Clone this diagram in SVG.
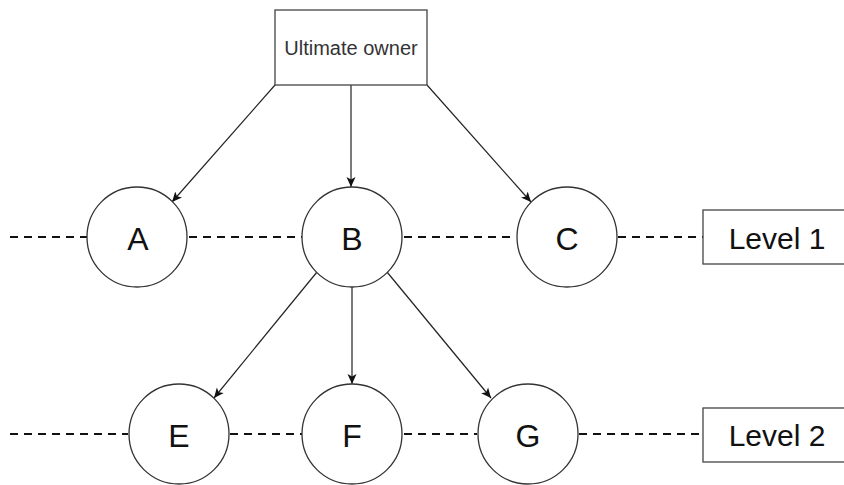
<svg xmlns="http://www.w3.org/2000/svg" width="844" height="485" viewBox="0 0 844 485">
  <style>
    .node { fill: #ffffff; stroke: #333333; stroke-width: 1.3; }
    .box { fill: #ffffff; stroke: #444444; stroke-width: 1.3; }
    .edge { fill: none; stroke: #222222; stroke-width: 1.2; marker-end: url(#arrow); }
    .dash { fill: none; stroke: #111111; stroke-width: 2; stroke-dasharray: 8 6; }
    .lbl { font-family: "Liberation Sans", Arial, sans-serif; fill: #111111; text-anchor: middle; }
    .big { font-size: 32px; }
    .lvl { font-size: 30px; }
    .own { font-size: 20px; fill: #333333; }
  </style>
  <defs>
    <marker id="arrow" viewBox="0 0 10 10" refX="10" refY="5" markerWidth="10" markerHeight="10" markerUnits="userSpaceOnUse" orient="auto">
      <path d="M0,0.5 L10,5 L0,9.5 L2.5,5 Z" fill="#111111"/>
    </marker>
  </defs>
  <rect width="844" height="485" fill="#ffffff"/>

  <g id="level-lines">
    <line class="dash" x1="10" y1="237" x2="87" y2="237"/>
    <line class="dash" x1="189" y1="237" x2="302" y2="237"/>
    <line class="dash" x1="404" y1="237" x2="516" y2="237"/>
    <line class="dash" x1="618" y1="237" x2="703" y2="237"/>
    <line class="dash" x1="10" y1="434" x2="128" y2="434"/>
    <line class="dash" x1="230" y1="434" x2="302" y2="434"/>
    <line class="dash" x1="404" y1="434" x2="477" y2="434"/>
    <line class="dash" x1="579" y1="434" x2="702" y2="434"/>
  </g>

  <g id="connectors">
    <line class="edge" x1="275" y1="85" x2="172" y2="202"/>
    <line class="edge" x1="351" y1="85" x2="351" y2="187"/>
    <line class="edge" x1="427" y1="85" x2="531" y2="202"/>
    <line class="edge" x1="317" y1="272" x2="214" y2="398"/>
    <line class="edge" x1="352" y1="287" x2="352" y2="384"/>
    <line class="edge" x1="387" y1="272" x2="491" y2="398"/>
  </g>

  <g id="ultimate-owner">
    <rect class="box" x="275" y="10" width="152" height="75"/>
    <text class="lbl own" x="351" y="55">Ultimate owner</text>
  </g>

  <g id="node-A">
    <circle class="node" cx="137" cy="237" r="50"/>
    <text class="lbl big" x="138" y="250">A</text>
  </g>
  <g id="node-B">
    <circle class="node" cx="352" cy="237" r="50"/>
    <text class="lbl big" x="352" y="250">B</text>
  </g>
  <g id="node-C">
    <circle class="node" cx="567" cy="237" r="50"/>
    <text class="lbl big" x="567" y="250">C</text>
  </g>
  <g id="level-1">
    <rect class="box" x="703" y="210" width="150" height="54"/>
    <text class="lbl lvl" x="777" y="249">Level 1</text>
  </g>

  <g id="node-E">
    <circle class="node" cx="179" cy="434" r="50"/>
    <text class="lbl big" x="179" y="447">E</text>
  </g>
  <g id="node-F">
    <circle class="node" cx="352" cy="434" r="50"/>
    <text class="lbl big" x="352" y="447">F</text>
  </g>
  <g id="node-G">
    <circle class="node" cx="528" cy="434" r="50"/>
    <text class="lbl big" x="528" y="447">G</text>
  </g>
  <g id="level-2">
    <rect class="box" x="703" y="408" width="150" height="54"/>
    <text class="lbl lvl" x="777" y="446">Level 2</text>
  </g>
</svg>
